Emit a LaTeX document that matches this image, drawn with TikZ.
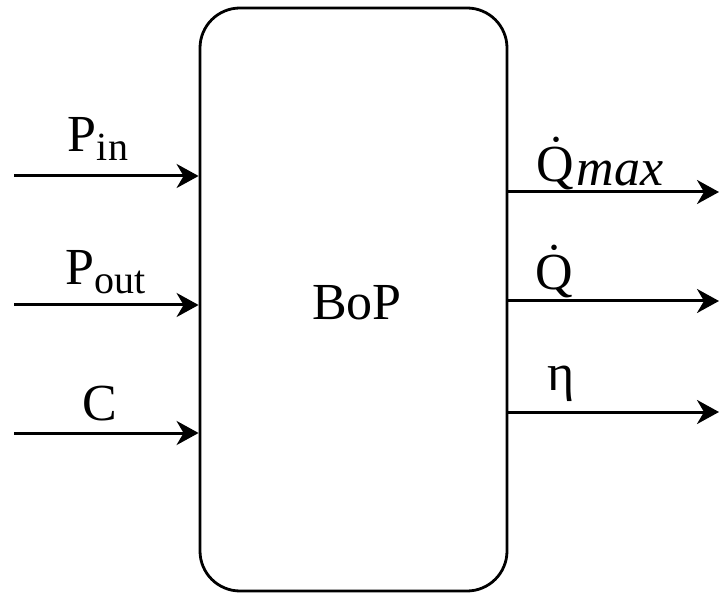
\documentclass[tikz,border=0pt]{standalone}
\usepackage{fontspec}
\setmainfont{Liberation Serif}
\usetikzlibrary{arrows.meta}
\begin{document}
\begin{tikzpicture}[x=1pt,y=-1pt,
  lbl/.style={anchor=base,inner sep=0pt,font=\fontsize{52}{60}\selectfont},
  conn/.style={line width=3pt,-{Stealth[length=22pt,width=24pt,inset=7pt]}},
  blk/.style={draw,line width=2.8pt,rounded corners=40pt,minimum width=307pt,minimum height=583pt,inner sep=0pt}]
\useasboundingbox (0,0) rectangle (720,593);
\node[blk] (box) at (353.5,299.5) {};
\node[lbl] (bop) at (357,320) {BoP};
% left inputs
\coordinate (i1) at (14,176);
\coordinate (i2) at (14,305);
\coordinate (i3) at (14,433);
\draw[conn] (i1) -- (box.west |- i1);
\draw[conn] (i2) -- (box.west |- i2);
\draw[conn] (i3) -- (box.west |- i3);
\node[lbl] (pin) at (98,152) {P\raisebox{-9pt}{\fontsize{40}{44}\selectfont in}};
\node[lbl] (pout) at (106,285) {P\raisebox{-9pt}{\fontsize{40}{44}\selectfont out}};
\node[lbl] (c) at (100,420) {C};
% right outputs
\coordinate (o1) at (719,192);
\coordinate (o2) at (719,301);
\coordinate (o3) at (719,412);
\draw[conn] (box.east |- o1) -- (o1);
\draw[conn] (box.east |- o2) -- (o2);
\draw[conn] (box.east |- o3) -- (o3);
\node[lbl] (qmax) at (600,182) {\.{Q}\hspace{2pt}\raisebox{-4pt}{\itshape max}};
\node[lbl] (q) at (554,290) {\.{Q}};
\node[lbl] (eta) at (561,390) {η};
\end{tikzpicture}
\end{document}
